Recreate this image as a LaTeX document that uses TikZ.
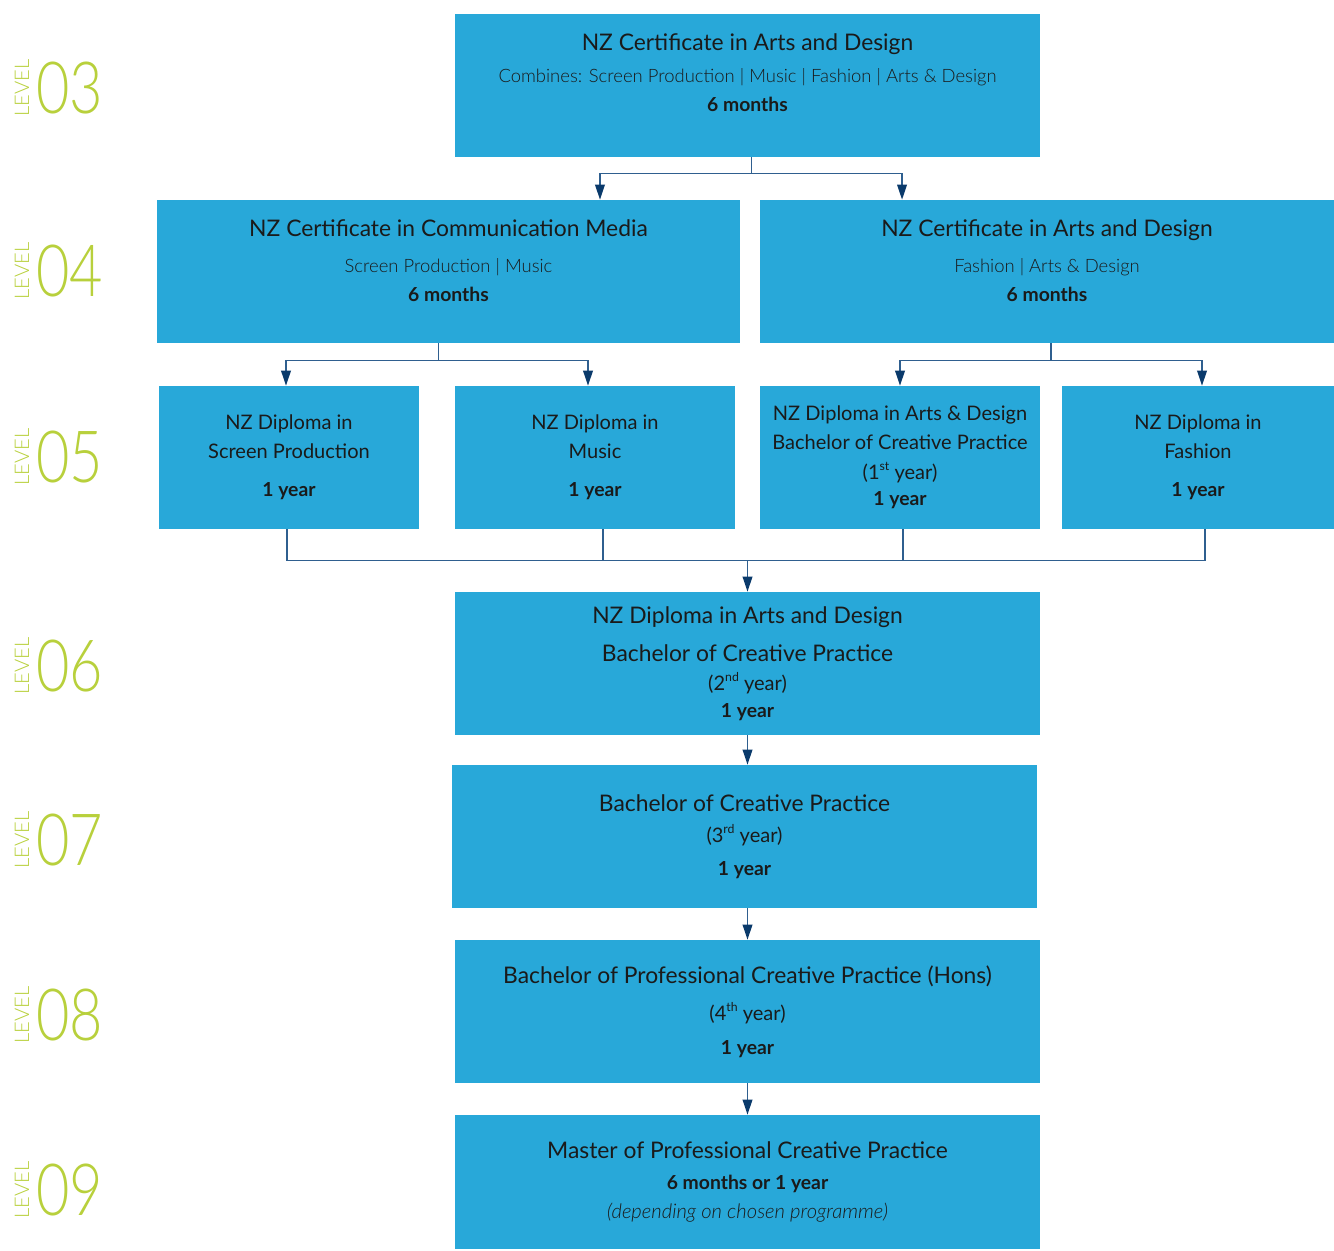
\documentclass[tikz,border=0pt]{standalone}
\usepackage{fontspec}
\setmainfont{Lato}
\newfontfamily\lightfont{Lato Light}
\usetikzlibrary{arrows.meta, calc}

\definecolor{boxblue}{HTML}{28A8D9}
\definecolor{linkblue}{HTML}{2F5F8F}
\definecolor{tipblue}{HTML}{0A3A6B}
\definecolor{lvlgreen}{HTML}{B8D03C}
\definecolor{inktext}{HTML}{1A1A1A}

\newcommand{\ttlline}[1]{{\fontsize{13}{17}\selectfont #1}}
\newcommand{\subline}[1]{{\lightfont\fontsize{10.5}{17}\selectfont #1}}
\newcommand{\midline}[1]{{\fontsize{11.4}{17}\selectfont #1}}
\newcommand{\durline}[1]{{\bfseries\fontsize{11}{17}\selectfont #1}}
\newcommand{\ordsup}[1]{\raisebox{0.9ex}{\fontsize{7}{7}\selectfont #1}}

\begin{document}
\begin{tikzpicture}[
        x=0.02cm, y=-0.02cm,
        >={Triangle[length=8.5pt, width=5.5pt, color=tipblue]},
        % Styles
        box/.style={rectangle, fill=boxblue, inner sep=0pt, minimum height=2.86cm,
                align=center, text=inktext, font=\fontsize{12}{17}\selectfont,
                execute at begin node={\rule{0pt}{14pt}}},
        boxtext/.style={inner sep=0pt, align=center, text=inktext,
                font=\fontsize{12}{17}\selectfont, anchor=north},
        link/.style={draw=linkblue, line width=0.8pt},
        arrow/.style={link, ->},
        lvl/.style={rotate=90, inner sep=0pt, text=lvlgreen,
                font=\lightfont\fontsize{11.5}{11.5}\selectfont},
        lvlnum/.style={anchor=west, inner sep=0pt, text=lvlgreen,
                font=\lightfont\fontsize{41}{41}\selectfont}, ]

        \useasboundingbox (0,0) rectangle (1334,1250);

        % === LEVEL LABELS ===
        \foreach \lv/\yy in {03/88, 04/271, 05/457, 06/666, 07/840, 08/1015, 09/1190} {
            \node[lvl] (lev\lv) at (22,\yy) {LEVEL};
            \node[lvlnum] (num\lv) at (36,\yy) {\scalebox{0.8}[1]{\lv}};
        }

        % === LEVEL 3 ===
        \node[box, minimum width=11.7cm] (l3) at (747.5,85.5) {};
        \node[boxtext, yshift=-0.4cm] (l3txt) at (l3.north)
            {\ttlline{NZ Certificate in Arts and Design}\\[1pt]
             \subline{Combines: Screen Production | Music | Fashion | Arts \& Design}\\[-0.5pt]
             \durline{6 months}};

        % === LEVEL 4 ===
        \node[box, minimum width=11.66cm] (l4a) at (448.5,271.5) {};
        \node[boxtext, yshift=-0.4cm] (l4atxt) at (l4a.north)
            {\ttlline{NZ Certificate in Communication Media}\\[3.5pt]
             \subline{Screen Production | Music}\\[-0.5pt]
             \durline{6 months}};
        \node[box, minimum width=11.48cm] (l4b) at (1047,271.5) {};
        \node[boxtext, yshift=-0.4cm] (l4btxt) at (l4b.north)
            {\ttlline{NZ Certificate in Arts and Design}\\[3.5pt]
             \subline{Fashion | Arts \& Design}\\[-0.5pt]
             \durline{6 months}};

        % === LEVEL 5 ===
        \node[box, minimum width=5.2cm] (l5a) at (289,457.5)
            {\midline{NZ Diploma in}\\[-0.5pt] \midline{Screen Production}\\[4.5pt] \durline{1 year}};
        \node[box, minimum width=5.6cm] (l5b) at (595,457.5)
            {\midline{NZ Diploma in}\\[-0.5pt] \midline{Music}\\[4.5pt] \durline{1 year}};
        \node[box, minimum width=5.6cm] (l5c) at (900,457.5)
            {\midline{NZ Diploma in Arts \& Design}\\[-0.5pt]
             \midline{Bachelor of Creative Practice}\\
             \midline{(1\ordsup{st} year)}\\[-2pt] \durline{1 year}};
        \node[box, minimum width=5.44cm] (l5d) at (1198,457.5)
            {\midline{NZ Diploma in}\\[-0.5pt] \midline{Fashion}\\[4.5pt] \durline{1 year}};

        % === LEVELS 6 TO 9 ===
        \node[box, minimum width=11.7cm] (l6) at (747.5,663.5)
            {\ttlline{NZ Diploma in Arts and Design}\\[4.5pt]
             \ttlline{Bachelor of Creative Practice}\\
             \midline{(2\ordsup{nd} year)}\\[-2pt] \durline{1 year}};
        \node[box, minimum width=11.7cm] (l7) at (744.5,836.5)
            {\ttlline{Bachelor of Creative Practice}\\[0.5pt]
             \midline{(3\ordsup{rd} year)}\\[1.7pt] \durline{1 year}};
        \node[box, minimum width=11.7cm] (l8) at (747.5,1011.5)
            {\ttlline{Bachelor of Professional Creative Practice (Hons)}\\[4.5pt]
             \midline{(4\ordsup{th} year)}\\[2pt] \durline{1 year}};
        \node[box, minimum width=11.7cm, minimum height=2.68cm] (l9) at (747.5,1182)
            {\ttlline{Master of Professional Creative Practice}\\[0.5pt]
             \durline{6 months or 1 year}\\[-0.5pt]
             {\lightfont\itshape\fontsize{11.5}{17}\selectfont (depending on chosen programme)}};

        % === CONNECTIONS ===
        % Level 3 split
        \coordinate (j3) at ($(l3.south)+(4,16)$);
        \draw[link] (l3.south -| j3) -- (j3);
        \draw[arrow] (j3) -| ([xshift=3.03cm]l4a.north);
        \draw[arrow] (j3) -| ([xshift=-2.9cm]l4b.north);

        % Level 4 splits
        \coordinate (j4a) at ($(l4a.south)+(-10,17)$);
        \draw[link] (l4a.south -| j4a) -- (j4a);
        \draw[arrow] (j4a) -| ([xshift=-0.06cm]l5a.north);
        \draw[arrow] (j4a) -| ([xshift=-0.14cm]l5b.north);
        \coordinate (j4b) at ($(l4b.south)+(4,17)$);
        \draw[link] (l4b.south -| j4b) -- (j4b);
        \draw[arrow] (j4b) -| (l5c.north);
        \draw[arrow] (j4b) -| ([xshift=0.08cm]l5d.north);

        % Level 5 merge
        \coordinate (m5) at ($(l6.north)+(0,-31)$);
        \draw[link] ([xshift=-0.04cm]l5a.south) |- (m5) -| ([xshift=0.14cm]l5d.south);
        \draw[link] ([xshift=0.16cm]l5b.south) -- ([xshift=0.16cm]l5b.south |- m5);
        \draw[link] ([xshift=0.06cm]l5c.south) -- ([xshift=0.06cm]l5c.south |- m5);
        \draw[arrow] (m5) -- (l6.north);

        % Straight run
        \draw[arrow] (l6.south) -- (l6.south |- l7.north);
        \draw[arrow] (l8.north |- l7.south) -- (l8.north);
        \draw[arrow] (l8.south) -- (l8.south |- l9.north);

    \end{tikzpicture}
\end{document}
